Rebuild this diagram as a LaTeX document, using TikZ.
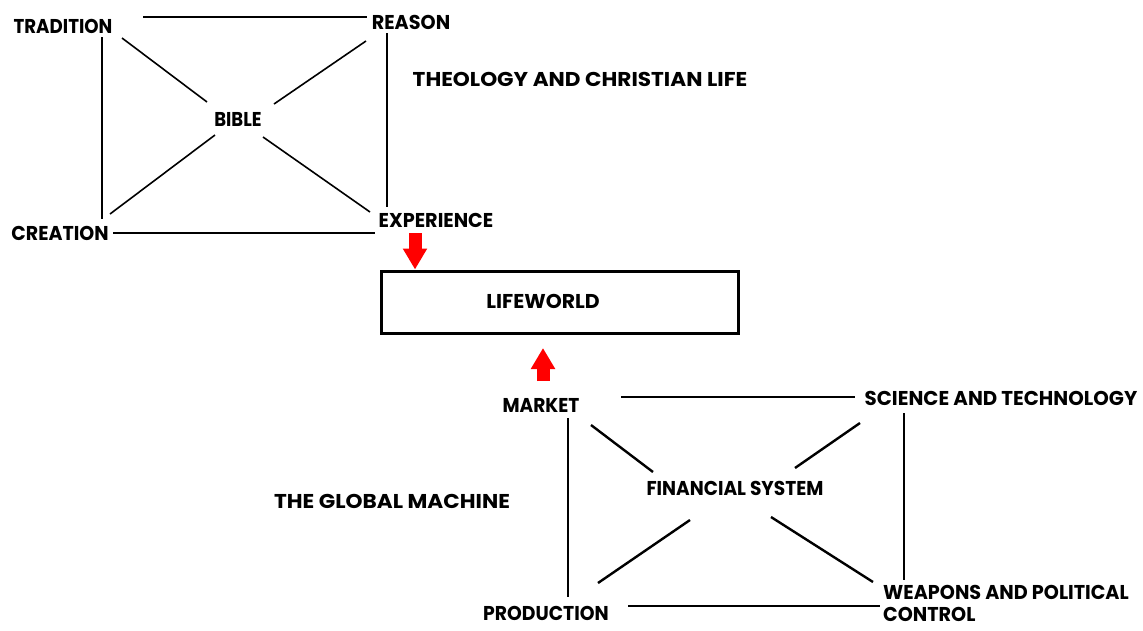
\documentclass[tikz,border=0pt]{standalone}
\usepackage{fontspec}
\setmainfont{Poppins}
\usetikzlibrary{arrows.meta}
\newcommand{\hsq}[2]{\scalebox{#1}[1]{#2}}
\begin{document}
\begin{tikzpicture}[x=1pt,y=-1pt,
  lbl/.style={inner sep=0pt, font=\fontsize{20}{23}\selectfont\bfseries, text=black},
  thin/.style={line width=1.6pt},
  thick/.style={line width=2.4pt},
  box/.style={draw, line width=3pt, minimum width=357pt, minimum height=62pt, inner sep=0pt},
  bigarrow/.style={red, line width=13pt, -{Triangle[width=23pt,length=21pt]}}]
\useasboundingbox (0,0) rectangle (1143,630);
% ---------- top group
\node[lbl] (trad) at (63,26) {\hsq{0.91}{TRADITION}};
\node[lbl] (reas) at (411,22) {\hsq{0.96}{REASON}};
\node[lbl] (bib) at (238,119) {\hsq{0.9}{BIBLE}};
\node[lbl] (crea) at (60,233) {\hsq{0.95}{CREATION}};
\node[lbl] (exp) at (436,220) {\hsq{0.96}{EXPERIENCE}};
\node[lbl] (theo) at (580,79) {\hsq{1.08}{THEOLOGY AND CHRISTIAN LIFE}};
\coordinate (t1) at (143,17); \coordinate (t2) at (367,17);
\coordinate (l1) at (102,37); \coordinate (l2) at (102,219);
\coordinate (r1) at (387,33); \coordinate (r2) at (387,207);
\coordinate (b1) at (113,233); \coordinate (b2) at (375,233);
\coordinate (d1a) at (122,38); \coordinate (d1b) at (207,102);
\coordinate (d2a) at (366,41); \coordinate (d2b) at (274,104);
\coordinate (d3a) at (215,135); \coordinate (d3b) at (110,214);
\coordinate (d4a) at (263,137); \coordinate (d4b) at (370,212);
\draw[thick] (t1) -- (t2);
\draw[thick] (l1) -- (l2);
\draw[thick] (r1) -- (r2);
\draw[thick] (b1) -- (b2);
\draw[thin] (d1a) -- (d1b);
\draw[thin] (d2a) -- (d2b);
\draw[thin] (d3a) -- (d3b);
\draw[thin] (d4a) -- (d4b);
% ---------- lifeworld
\node[box] (lw) at (560,302) {};
\node[lbl] (lwt) at (543,301) {\hsq{1.02}{LIFEWORLD}};
\coordinate (a1s) at (415,233);
\draw[bigarrow] (a1s) -- (a1s |- lw.north);
\coordinate (a2s) at (543,381);
\coordinate (a2e) at (543,348);
\draw[bigarrow] (a2s) -- (a2e);
% ---------- bottom group
\node[lbl] (mark) at (541,405) {\hsq{0.93}{MARKET}};
\node[lbl] (sci) at (1001,398) {\hsq{0.99}{SCIENCE AND TECHNOLOGY}};
\node[lbl] (fin) at (735,488) {\hsq{0.93}{FINANCIAL SYSTEM}};
\node[lbl] (glob) at (392,501) {\hsq{1.08}{THE GLOBAL MACHINE}};
\node[lbl] (prod) at (546,613) {\hsq{0.94}{PRODUCTION}};
\node[lbl, align=left, anchor=south west, font=\fontsize{20}{22}\selectfont\bfseries] (weap) at (883,627) {\hsq{0.96}{WEAPONS AND POLITICAL}\\\hsq{0.96}{CONTROL}\vphantom{p}};
\coordinate (u1) at (621,397); \coordinate (u2) at (855,397);
\coordinate (v1) at (568,418); \coordinate (v2) at (568,597);
\coordinate (w1) at (904,413); \coordinate (w2) at (904,580);
\coordinate (p1) at (628,606); \coordinate (p2) at (880,606);
\coordinate (e1a) at (591,425); \coordinate (e1b) at (653,472);
\coordinate (e2a) at (860,423); \coordinate (e2b) at (795,468);
\coordinate (e3a) at (690,520); \coordinate (e3b) at (598,583);
\coordinate (e4a) at (771,517); \coordinate (e4b) at (873,582);
\draw[thick] (u1) -- (u2);
\draw[thick] (v1) -- (v2);
\draw[thick] (w1) -- (w2);
\draw[thick] (p1) -- (p2);
\draw[thick] (e1a) -- (e1b);
\draw[thick] (e2a) -- (e2b);
\draw[thick] (e3a) -- (e3b);
\draw[thick] (e4a) -- (e4b);
\end{tikzpicture}
\end{document}
